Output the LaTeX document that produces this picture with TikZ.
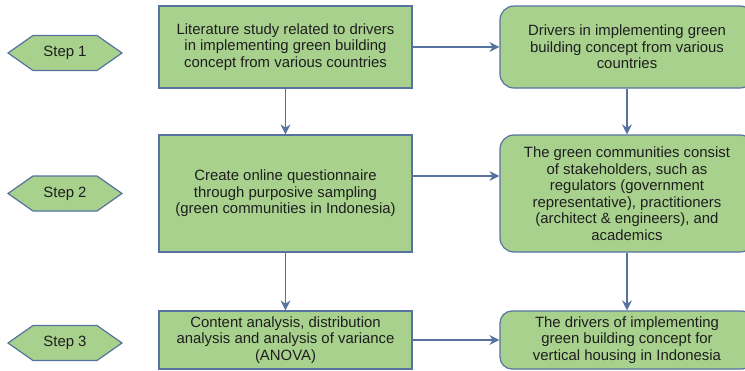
\documentclass[tikz,border=0pt]{standalone}
\usepackage{fontspec}
\setmainfont{Liberation Sans}
\usetikzlibrary{shapes.symbols,arrows.meta}
\definecolor{boxfill}{HTML}{A9D18E}
\definecolor{boxline}{HTML}{56739F}
\definecolor{txt}{HTML}{1E1E1E}
\begin{document}
\begin{tikzpicture}[x=1pt,y=-1pt,
  font=\fontsize{14.9}{16.5}\selectfont,
  base/.style={draw=boxline, fill=boxfill, line width=1.2pt, align=center, inner sep=0pt, text=txt},
  stepbox/.style={base, shape=signal, signal to=west and east, signal pointer angle=70,
    minimum width=114pt, minimum height=35pt},
  taskbox/.style={base, rectangle, minimum width=253pt},
  resultbox/.style={base, rectangle, rounded corners=14pt, minimum width=254pt},
  flow/.style={draw=boxline, line width=1.2pt, -{Stealth[length=10pt,width=10pt]}}
]
\useasboundingbox (0,0) rectangle (745,370);

% step markers
\node[stepbox] (s1) at (65,53) {Step 1};
\node[stepbox] (s2) at (65,193.5) {Step 2};
\node[stepbox] (s3) at (65,343) {Step 3};

% method column
\node[taskbox, minimum height=82pt] (b1) at (285.5,47)
  {Literature study related to drivers\\in implementing green building\\concept from various countries};
\node[taskbox, minimum height=117pt] (b3) at (285.5,193.5)
  {Create online questionnaire\\through purposive sampling\\(green communities in Indonesia)};
\node[taskbox, minimum height=58pt] (b5) at (285.5,340)
  {Content analysis, distribution\\analysis and analysis of variance\\(ANOVA)};

% outcome column
\node[resultbox, minimum height=82pt] (b2) at (627,47)
  {Drivers in implementing green\\building concept from various\\countries};
\node[resultbox, minimum height=117pt] (b4) at (627,193.5)
  {The green communities consist\\of stakeholders, such as\\regulators (government\\representative), practitioners\\(architect \& engineers), and\\academics};
\node[resultbox, rounded corners=12pt, minimum height=58pt] (b6) at (627,340)
  {The drivers of implementing\\green building concept for\\vertical housing in Indonesia};

% connectors
\draw[flow] (b1) -- (b2);
\draw[flow] ([yshift=17.5pt]b3.east) -- ([yshift=17.5pt]b4.west);
\draw[flow] (b5) -- (b6);
\draw[flow] (b1) -- (b3);
\draw[flow] (b3) -- (b5);
\draw[flow] (b2) -- (b4);
\draw[flow] (b4) -- (b6);
\end{tikzpicture}
\end{document}
